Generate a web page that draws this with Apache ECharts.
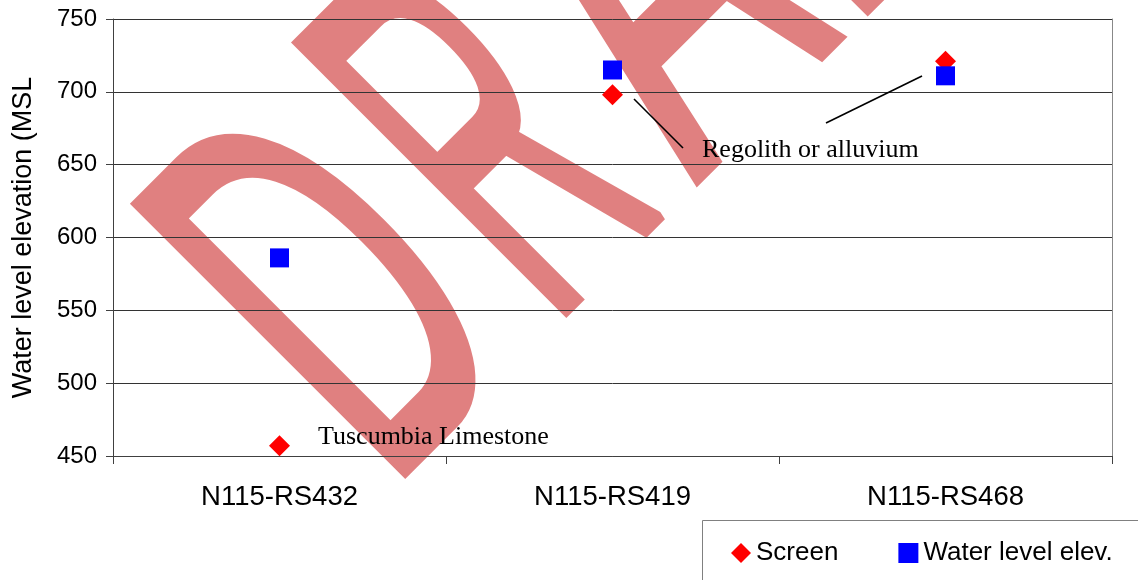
<!DOCTYPE html>
<html>
<head>
<meta charset="utf-8">
<script src="https://cdn.jsdelivr.net/npm/echarts@6/dist/echarts.min.js"></script>
<style>
  html, body { margin: 0; padding: 0; background: #fff; }
  #chart { width: 1138px; height: 580px; }
</style>
</head>
<body>
<div id="chart"></div>
<script>
const categories = ['N115-RS432', 'N115-RS419', 'N115-RS468']
const screenElev = [457, 698, 721]
const waterLevelElev = [586, 715, 711]
const yTicks = [450, 500, 550, 600, 650, 700, 750]
const seriesNames = ['Screen', 'Water level elev.']

const sans = '"Liberation Sans", Arial, sans-serif'
const serif = '"Liberation Serif", "Times New Roman", serif'

// watermark letters: offset along the baseline and horizontal squeeze of each one
const wmLetters = [
  { ch: 'D', x: -72, k: 0.50 },
  { ch: 'R', x: 159, k: 0.42 },
  { ch: 'A', x: 364, k: 0.56 },
  { ch: 'F', x: 582, k: 0.50 },
  { ch: 'T', x: 752, k: 0.50 }
]
const wmColor = '#e08080'

const chart = echarts.init(document.getElementById('chart'))

const option = {
  animation: false,
  backgroundColor: '#fff',
  grid: { left: 113, right: 26, top: 19, bottom: 124 },
  legend: {
    left: 731,
    top: 540,
    padding: 0,
    itemWidth: 20,
    itemHeight: 20,
    itemGap: 60,
    textStyle: { fontFamily: sans, fontSize: 26, color: '#000' },
    data: [
      { name: seriesNames[0], icon: 'diamond' },
      { name: seriesNames[1], icon: 'rect' }
    ]
  },
  xAxis: {
    type: 'category',
    data: categories,
    boundaryGap: true,
    axisLine: { lineStyle: { color: '#404040', width: 1 } },
    axisTick: { show: true, inside: false, length: 8, lineStyle: { color: '#404040' } },
    axisLabel: { fontFamily: sans, fontSize: 27.5, color: '#000', margin: 27 },
    splitLine: { show: false }
  },
  yAxis: [
    {
      type: 'value',
      min: yTicks[0],
      max: yTicks[yTicks.length - 1],
      interval: yTicks[1] - yTicks[0],
      name: 'Water level elevation (MSL',
      nameLocation: 'middle',
      nameGap: 76,
      nameTextStyle: { fontFamily: sans, fontSize: 27, color: '#000' },
      axisLine: { show: true, lineStyle: { color: '#404040' } },
      axisTick: { show: true, inside: false, length: 7, lineStyle: { color: '#404040' } },
      axisLabel: { fontFamily: sans, fontSize: 24, color: '#000', margin: 16 },
      splitLine: { show: true, lineStyle: { color: '#333', width: 1 } }
    },
    {
      type: 'value',
      position: 'right',
      min: yTicks[0],
      max: yTicks[yTicks.length - 1],
      axisLine: { show: true, lineStyle: { color: '#888' } },
      axisTick: { show: false },
      axisLabel: { show: false },
      splitLine: { show: false }
    }
  ],
  series: [
    {
      name: seriesNames[0],
      type: 'scatter',
      symbol: 'diamond',
      symbolSize: 21,
      itemStyle: { color: '#ff0000', opacity: 1 },
      data: screenElev,
      z: 3
    },
    {
      name: seriesNames[1],
      type: 'scatter',
      symbol: 'rect',
      symbolSize: 19,
      itemStyle: { color: '#0000ff', opacity: 1 },
      data: waterLevelElev,
      z: 4
    }
  ],
  graphic: [
    // DRAFT watermark, behind the grid lines
    {
      type: 'group',
      z: -1,
      x: 331,
      y: 331,
      rotation: Math.PI / 4,
      silent: true,
      children: wmLetters.map(l => ({
        type: 'text',
        z: -1,
        x: l.x,
        y: 0,
        scaleX: l.k,
        style: {
          text: l.ch,
          x: 0,
          y: 0,
          font: '550px "Liberation Sans"',
          fill: wmColor,
          stroke: wmColor,
          lineWidth: 11,
          lineJoin: 'round',
          textAlign: 'left',
          textVerticalAlign: 'middle',
          align: 'left',
          verticalAlign: 'middle'
        }
      }))
    },
    // legend frame, runs off the right and bottom edges
    {
      type: 'rect',
      z: -1,
      shape: { x: 702.5, y: 520.5, width: 500, height: 100 },
      style: { fill: '#fff', stroke: '#808080', lineWidth: 1 }
    },
    {
      type: 'text',
      z: 100,
      x: 318,
      y: 437,
      style: {
        text: 'Tuscumbia Limestone',
        font: '26px ' + serif,
        fill: '#000',
        textVerticalAlign: 'middle',
        verticalAlign: 'middle'
      }
    },
    {
      type: 'text',
      z: 100,
      x: 702,
      y: 150,
      style: {
        text: 'Regolith or alluvium',
        font: '26px ' + serif,
        fill: '#000',
        textVerticalAlign: 'middle',
        verticalAlign: 'middle'
      }
    },
    {
      type: 'line',
      z: 100,
      shape: { x1: 634, y1: 99, x2: 683, y2: 148 },
      style: { stroke: '#000', lineWidth: 1.6 }
    },
    {
      type: 'line',
      z: 100,
      shape: { x1: 826, y1: 123, x2: 922, y2: 76 },
      style: { stroke: '#000', lineWidth: 1.6 }
    }
  ]
}

chart.setOption(option)
window.addEventListener('resize', () => chart.resize())
</script>
</body>
</html>
